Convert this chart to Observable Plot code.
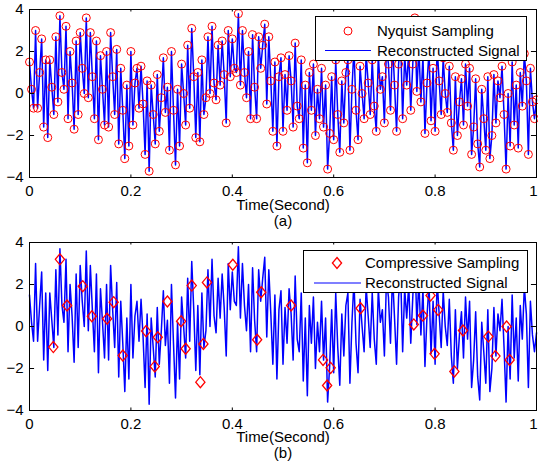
<!DOCTYPE html>
<html>
<head>
<meta charset="utf-8">
<script src="https://cdn.jsdelivr.net/npm/d3@7"></script>
<script src="https://cdn.jsdelivr.net/npm/@observablehq/plot@0.6"></script>
<style>
  body { margin: 0; background: white; font-family: "Liberation Sans", Arial, sans-serif; }
  #wrap { position: relative; width: 538px; height: 472px; overflow: hidden; }
  .panel { position: relative; width: 538px; }
  .legend { position: absolute; border: 1px solid black; background: white; box-sizing: border-box; }
  .legend svg { position: absolute; left: 0; top: 0; }
  .legend span { position: absolute; font-size: 15px; line-height: 15px; white-space: nowrap; color: black; }
</style>
</head>
<body>
<div id="wrap"></div>
<script>
// ---------------- data ----------------
const fs = 250; // samples per second, t = i / fs
const signal = [
  1.5, 0.2, -0.7, 3.0, -0.7, 1.0, 2.6, -1.6, 1.6, -2.1,
  1.6, 0.3, -1.0, 2.7, -0.4, 3.7, 1.0, 0.2, 3.2, -1.2,
  2.0, 0.5, -1.7, 2.5, -1.0, 2.9, 1.2, 0.0, 3.6, -0.2,
  2.9, 0.8, -1.2, 2.5, -2.2, 1.8, 0.2, -1.5, 2.0, -1.6,
  2.9, 0.8, -1.0, 2.1, -2.4, 1.2, -0.8, -3.1, 0.4, -2.5,
  2.0, -1.5, 0.5, 1.2, -0.7, 1.3, -0.5, -2.9, 0.6, -3.7,
  0.4, -1.0, -2.4, 0.9, -1.8, -0.2, 1.7, -0.9, 0.3, -2.7,
  2.0, -0.8, -3.4, 0.2, -2.5, 1.4, 0.0, -1.5, 2.3, -0.7,
  3.1, 0.8, -2.1, 1.0, -2.3, 1.6, -1.0, -0.2, 2.7, 0.0,
  3.2, 0.5, -0.3, 2.3, 0.4, 2.5, 0.9, -1.4, 3.0, 0.8,
  2.6, 1.2, 1.0, 3.8, 0.4, 3.0, 1.0, -0.2, 2.0, -1.2,
  2.8, 0.3, -1.2, 2.7, 1.2, 2.3, 3.3, -0.5, 2.7, 0.6,
  -1.8, 1.5, -2.5, 0.8, 1.7, -1.8, 0.9, -0.8, 1.8, 0.6,
  -1.6, 2.4, -0.6, -1.2, 1.6, -2.6, 0.4, -3.3, 1.0, -0.8,
  1.4, -2.0, 0.2, -1.2, 1.2, -1.6, 0.4, -3.6, -1.9, 0.8,
  -2.2, 1.6, -1.0, -2.8, 0.6, -1.4, 1.0, 1.6, -2.7, 0.2,
  2.2, -0.8, -2.2, 1.3, 0.0, -1.2, 1.9, 0.5, -1.0, 1.6,
  -0.6, -1.8, 1.8, 0.2, 0.8, -1.4, 2.2, 1.4, -0.8, 2.5,
  0.4, -1.8, 1.4, 2.6, -1.2, 1.8, 0.4, 2.0, -0.8, 1.4,
  3.6, 0.1, 2.2, -0.4, 1.8, -1.9, 0.5, 2.0, -1.3, 1.2,
  -1.8, 2.2, 0.6, -1.0, 1.7, 0.0, -0.9, 1.3, -1.4, -2.7,
  0.8, -2.0, -0.4, 0.7, -1.5, 1.4, -0.6, 1.2, -2.9, -1.6,
  0.7, -2.4, -3.5, 0.2, -1.2, -2.7, 0.8, -3.1, -2.0, 0.9,
  -1.4, 0.6, -0.2, 1.3, -1.0, -3.6, 0.0, -2.5, 1.5, -1.5,
  0.4, -2.6, 1.0, -0.6, 1.9, 0.6, -2.9, 1.2, -0.4, -1.2,
  -0.3
];
const csTime = [
  0.047, 0.060, 0.074, 0.105, 0.123, 0.153, 0.166, 0.184,
  0.230, 0.247, 0.253, 0.272, 0.299, 0.308, 0.320, 0.337, 0.343, 0.350,
  0.401, 0.449, 0.457, 0.516, 0.579, 0.587, 0.594, 0.653,
  0.758, 0.776, 0.791, 0.799, 0.806, 0.838, 0.855, 0.905, 0.919, 0.941, 0.947
];
const csValue = [
  -0.98, 3.2, 1.0, 1.92, 0.49, 0.37, 1.16, -1.38,
  -0.22, -1.9, -0.51, 1.19, 0.25, -1.06, 1.95, -2.65, -0.83, 2.1,
  2.94, -0.63, 1.63, 1.0, -1.59, -2.81, -1.97, 0.87,
  0.1, 0.52, 1.48, -1.3, 0.79, -2.14, -0.19, -0.48, -1.41, 0.0, -1.59
];
const xTicks = [0, 0.2, 0.4, 0.6, 0.8, 1];
const xTickLabels = ["0", "0.2", "0.4", "0.6", "0.8", "1"];
const yTicks = [-4, -2, 0, 2, 4];
const yTickLabels = ["\u22124", "\u22122", "0", "2", "4"];
const xLabel = "Time(Second)";
const legendTop = ["Nyquist Sampling", "Reconstructed Signal"];
const legendBottom = ["Compressive Sampling", "Reconstructed Signal"];

// ---------------- build ----------------
const sigData = signal.map((v, i) => ({t: i / fs, v}));
const csData = csTime.map((t, i) => ({t, v: csValue[i]}));

const BLUE = "#0000ff", RED = "#ff0000";
const diamondSym = {
  draw(ctx, size) {
    const w = 4.6, h = 5.5;
    ctx.moveTo(0, -h); ctx.lineTo(w, 0); ctx.lineTo(0, h); ctx.lineTo(-w, 0); ctx.closePath();
  }
};

function panel({height, marginTop, marginBottom, marks, sub, labelDy, subDy}) {
  const fmtX = d => xTickLabels[xTicks.indexOf(d)];
  const fmtY = d => yTickLabels[yTicks.indexOf(d)];
  const lastTick = xTicks[xTicks.length - 1];
  return Plot.plot({
    width: 538, height, marginLeft: 29, marginRight: 2, marginTop, marginBottom,
    style: {fontFamily: "'Liberation Sans', Arial, sans-serif", fontSize: "15px", background: "white", color: "black", overflow: "visible"},
    x: {domain: [0, 1]},
    y: {domain: [-4, 4]},
    marks: [
      ...marks,
      Plot.frame({stroke: "black", strokeWidth: 1}),
      Plot.ruleX(xTicks, {y1: -4, y2: -3.88, stroke: "black"}),
      Plot.ruleX(xTicks, {y1: 4, y2: 3.88, stroke: "black"}),
      Plot.ruleY(yTicks, {x1: 0, x2: 0.01, stroke: "black"}),
      Plot.ruleY(yTicks, {x1: 0.99, x2: 1, stroke: "black"}),
      Plot.axisX(xTicks.slice(0, -1), {tickSize: 0, tickPadding: 8, tickFormat: fmtX, label: null, fontSize: 15}),
      Plot.axisX([lastTick], {tickSize: 0, tickPadding: 8, tickFormat: fmtX, label: null, fontSize: 15, dx: -3}),
      Plot.axisY(yTicks, {tickSize: 0, tickPadding: 6, tickFormat: fmtY, label: null, fontSize: 15}),
      Plot.text([xLabel], {frameAnchor: "bottom", dy: labelDy, fontSize: 15}),
      Plot.text([sub], {frameAnchor: "bottom", dy: subDy, fontSize: 15})
    ]
  });
}

const wrap = document.getElementById("wrap");

// Panel (a)
const p1 = document.createElement("div");
p1.className = "panel";
p1.appendChild(panel({
  height: 232, marginTop: 9, marginBottom: 55, sub: "(a)", labelDy: 32, subDy: 48,
  marks: [
    Plot.line(sigData, {x: "t", y: "v", stroke: BLUE, strokeWidth: 1.5}),
    Plot.dot(sigData, {x: "t", y: "v", r: 4, stroke: RED, fill: "none", strokeWidth: 1})
  ]
}));
const lg1 = document.createElement("div");
lg1.className = "legend";
Object.assign(lg1.style, {left: "315px", top: "16px", width: "212px", height: "45px"});
lg1.innerHTML = `<svg width="212" height="45">
  <circle cx="32" cy="14" r="4" fill="none" stroke="${RED}" stroke-width="1"/>
  <line x1="9" x2="55" y1="33.5" y2="33.5" stroke="${BLUE}" stroke-width="1.2"/></svg>
  <span style="left:61px;top:6px">${legendTop[0]}</span>
  <span style="left:61px;top:26px">${legendTop[1]}</span>`;
p1.appendChild(lg1);
wrap.appendChild(p1);

// Panel (b)
const p2 = document.createElement("div");
p2.className = "panel";
p2.appendChild(panel({
  height: 240, marginTop: 10, marginBottom: 62, sub: "(b)", labelDy: 31, subDy: 47,
  marks: [
    Plot.line(sigData, {x: "t", y: "v", stroke: BLUE, strokeWidth: 1.5}),
    Plot.dot(csData, {x: "t", y: "v", symbol: diamondSym, r: 4, stroke: RED, fill: "none", strokeWidth: 1.3})
  ]
}));
const lg2 = document.createElement("div");
lg2.className = "legend";
Object.assign(lg2.style, {left: "303px", top: "18px", width: "225px", height: "43px"});
lg2.innerHTML = `<svg width="225" height="43">
  <path d="M33,6.5 L37.6,12 L33,17.5 L28.4,12 Z" fill="none" stroke="${RED}" stroke-width="1.3"/>
  <line x1="10" x2="57" y1="32" y2="32" stroke="${BLUE}" stroke-width="1.2"/></svg>
  <span style="left:61px;top:4px">${legendBottom[0]}</span>
  <span style="left:61px;top:24px">${legendBottom[1]}</span>`;
p2.appendChild(lg2);
wrap.appendChild(p2);
</script>
</body>
</html>
